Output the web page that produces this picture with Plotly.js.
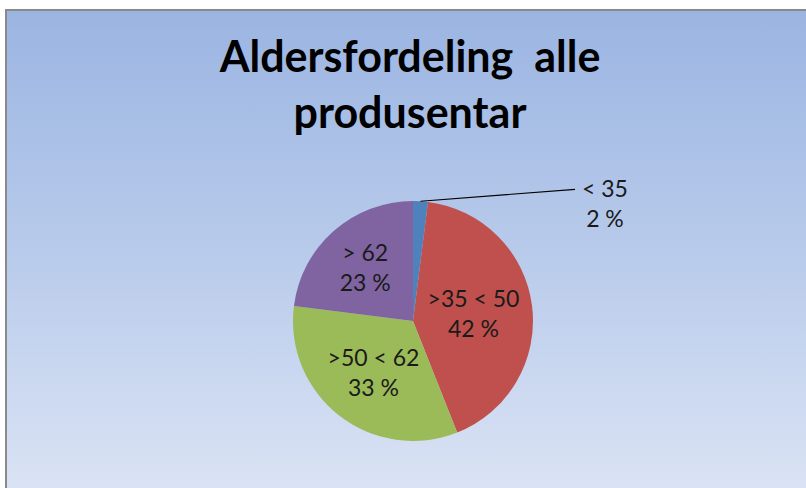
<!DOCTYPE html>
<html>
<head>
<meta charset="utf-8">
<script src="https://cdn.plot.ly/plotly-3.0.1.min.js"></script>
<style>
  html, body { margin: 0; padding: 0; background: #ffffff; }
  #wrap { position: relative; width: 806px; height: 488px; overflow: hidden; }
  #bg { position: absolute; left: 5px; top: 9px; width: 820px; height: 500px;
        border-left: 2px solid #8a8a8a; border-top: 2px solid #8a8a8a;
        background: linear-gradient(to bottom, #9bb5e2 0%, #b6c9ea 45%, #dde5f5 100%); }
  #chart { position: absolute; left: 0; top: 0; width: 806px; height: 488px; }
</style>
</head>
<body>
<div id="wrap"><div id="bg"></div><div id="chart"></div></div>
<script>
const categories = ["< 35", ">35 < 50", ">50 < 62", "> 62"];
const values = [2, 42, 33, 23];
const sliceColors = ["#4f81bd", "#c0504d", "#9bbb59", "#8064a2"];
const titleText = "Aldersfordeling  alle<br>produsentar";

const W = 806, H = 488;
const cx = 413, cy = 321, R = 120;
const domX = [(cx - R) / W, (cx + R) / W];
const domY = [1 - (cy + R) / H, 1 - (cy - R) / H];

const texts = categories.map((c, i) => i === 0 ? "" : c + "<br>" + values[i] + " %");
const total = values.reduce((a, b) => a + b, 0);
// leader line for the first (small) slice, from its outer edge
const midAng = (values[0] / 2 / total) * 2 * Math.PI;
const headX = (cx + R * Math.sin(midAng)) / W;
const headY = 1 - (cy - R * Math.cos(midAng)) / H;

const labelFont = { family: "Lato, 'Open Sans', sans-serif", size: 23, color: "#1a1a1a" };

const trace = {
  type: "pie",
  labels: categories,
  values: values,
  text: texts,
  textinfo: "text",
  textposition: "inside",
  insidetextorientation: "horizontal",
  sort: false,
  direction: "clockwise",
  rotation: 0,
  marker: { colors: sliceColors, line: { width: 0 } },
  textfont: labelFont,
  domain: { x: domX, y: domY },
  hoverinfo: "label+percent",
  showlegend: false
};

const layout = {
  width: W, height: H,
  margin: { l: 0, r: 0, t: 0, b: 0 },
  paper_bgcolor: "rgba(0,0,0,0)",
  plot_bgcolor: "rgba(0,0,0,0)",
  title: {
    text: titleText,
    font: { family: "Lato, 'Open Sans', sans-serif", size: 43, color: "#000000", weight: "bold" },
    x: 410 / W, xanchor: "center",
    y: 1 - 72 / H, yanchor: "top"
  },
  annotations: [
    {
      x: headX, y: headY, xref: "paper", yref: "paper",
      text: "", showarrow: true, arrowhead: 0, arrowwidth: 1.2, arrowcolor: "#000000",
      ax: 156, ay: -12, standoff: 0
    },
    {
      x: 605 / W, y: 1 - 203 / H, xref: "paper", yref: "paper",
      xanchor: "center", yanchor: "middle",
      text: categories[0] + "<br>" + values[0] + " %",
      showarrow: false, font: labelFont, align: "center"
    }
  ]
};

Plotly.newPlot("chart", [trace], layout, { displayModeBar: false, staticPlot: true });
</script>
</body>
</html>
